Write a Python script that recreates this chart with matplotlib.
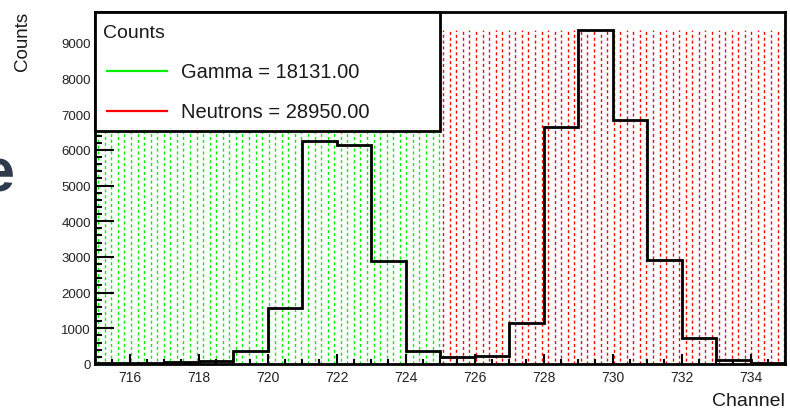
import numpy as np
import matplotlib
matplotlib.use("Agg")
import matplotlib.pyplot as plt
from matplotlib.patches import Rectangle
from matplotlib.lines import Line2D
from matplotlib.ticker import MultipleLocator

plt.rcParams['font.family'] = ['Liberation Sans', 'DejaVu Sans']

# ---- data ----
gamma_edges = [715, 716, 717, 718, 719, 720, 721, 722, 723, 724, 725]
gamma_counts = [40, 40, 45, 95, 365, 1565, 6235, 6140, 2880, 365]
neutron_edges = [725, 726, 727, 728, 729, 730, 731, 732, 733, 734, 735]
neutron_counts = [185, 235, 1150, 6640, 9365, 6840, 2915, 720, 112, 20]
legend_title = "Counts"
gamma_label = "Gamma = 18131.00"
neutron_label = "Neutrons = 28950.00"
x_ticks = [716, 718, 720, 722, 724, 726, 728, 730, 732, 734]
y_ticks = [0, 1000, 2000, 3000, 4000, 5000, 6000, 7000, 8000, 9000]

W, H = 790, 414
fig = plt.figure(figsize=(W / 100, H / 100), dpi=100)
ax = fig.add_axes([95 / W, 49 / H, 690 / W, 352 / H])

edges = np.array(gamma_edges[:-1] + neutron_edges)
counts = np.array(gamma_counts + neutron_counts)
top = counts.max()

# hatched fill regions (dashed vertical lines)
def pattern(x0, x1, color):
    step = 0.19
    xs = np.arange(x0 + step / 2, x1, step)
    for i, x in enumerate(xs):
        ax.vlines(x, 0, top, colors=color, linewidth=1.0,
                  linestyles=[(0 if i % 2 == 0 else 2.1, (2.2, 2.0))], zorder=1)

pattern(gamma_edges[0], gamma_edges[-1], '#00f000')
pattern(neutron_edges[0], neutron_edges[-1], '#ff0000')

ax.stairs(counts, edges, color='black', linewidth=2.0, baseline=0, zorder=3)

ax.set_xlim(715, 735)
ax.set_ylim(0, top * 1.053)

ax.set_xticks(x_ticks)
ax.set_yticks(y_ticks)
ax.xaxis.set_minor_locator(MultipleLocator(0.5))
ax.yaxis.set_minor_locator(MultipleLocator(200))
ax.tick_params(axis='x', which='major', direction='in', length=7.5, width=1.5,
               labelsize=10, pad=4.5, top=False, labelcolor='#222222')
ax.tick_params(axis='x', which='minor', direction='in', length=3.5, width=1.5, top=False)
ax.tick_params(axis='y', which='major', direction='in', length=14, width=1.5,
               labelsize=9.5, pad=3, right=False, labelcolor='#222222')
ax.tick_params(axis='y', which='minor', direction='in', length=5, width=1.5, right=False)
for s in ax.spines.values():
    s.set_linewidth(2.0)

# legend box
ax.add_patch(Rectangle((0, (365 - 132) / 352), (440 - 95) / 690, 1 - (365 - 132) / 352,
                       transform=ax.transAxes, facecolor='white', edgecolor='black',
                       linewidth=2.0, zorder=5, clip_on=False))
ax.text((103 - 95) / 690, (365 - 34) / 352, legend_title, transform=ax.transAxes,
        fontsize=14, va='center', ha='left', zorder=6, color='#1a1a1a')
for ypix, col, lab in [(72, '#00f000', gamma_label), (112, '#ff0000', neutron_label)]:
    yy = (365 - ypix) / 352
    ax.add_line(Line2D([(107 - 95) / 690, (167 - 95) / 690], [yy, yy], transform=ax.transAxes,
                       color=col, linewidth=1.6, zorder=6))
    ax.text((181 - 95) / 690, yy, lab, transform=ax.transAxes, fontsize=14.5,
            va='center', ha='left', zorder=6, color='#1a1a1a')

# axis titles
fig.text(22 / W, 1 - 12 / H, "Counts", rotation=90, ha='center', va='top', fontsize=13.5,
         color='#1a1a1a')
fig.text(785 / W, 1 - 402 / H, "Channel", ha='right', va='center', fontsize=14,
         color='#1a1a1a')

# slide fragment at left edge
fig.text(15 / W, 1 - 192 / H, "e", ha='right', va='baseline', fontsize=44,
         fontweight='bold', color='#2f3b4c')

fig.savefig("out.png", dpi=100)
